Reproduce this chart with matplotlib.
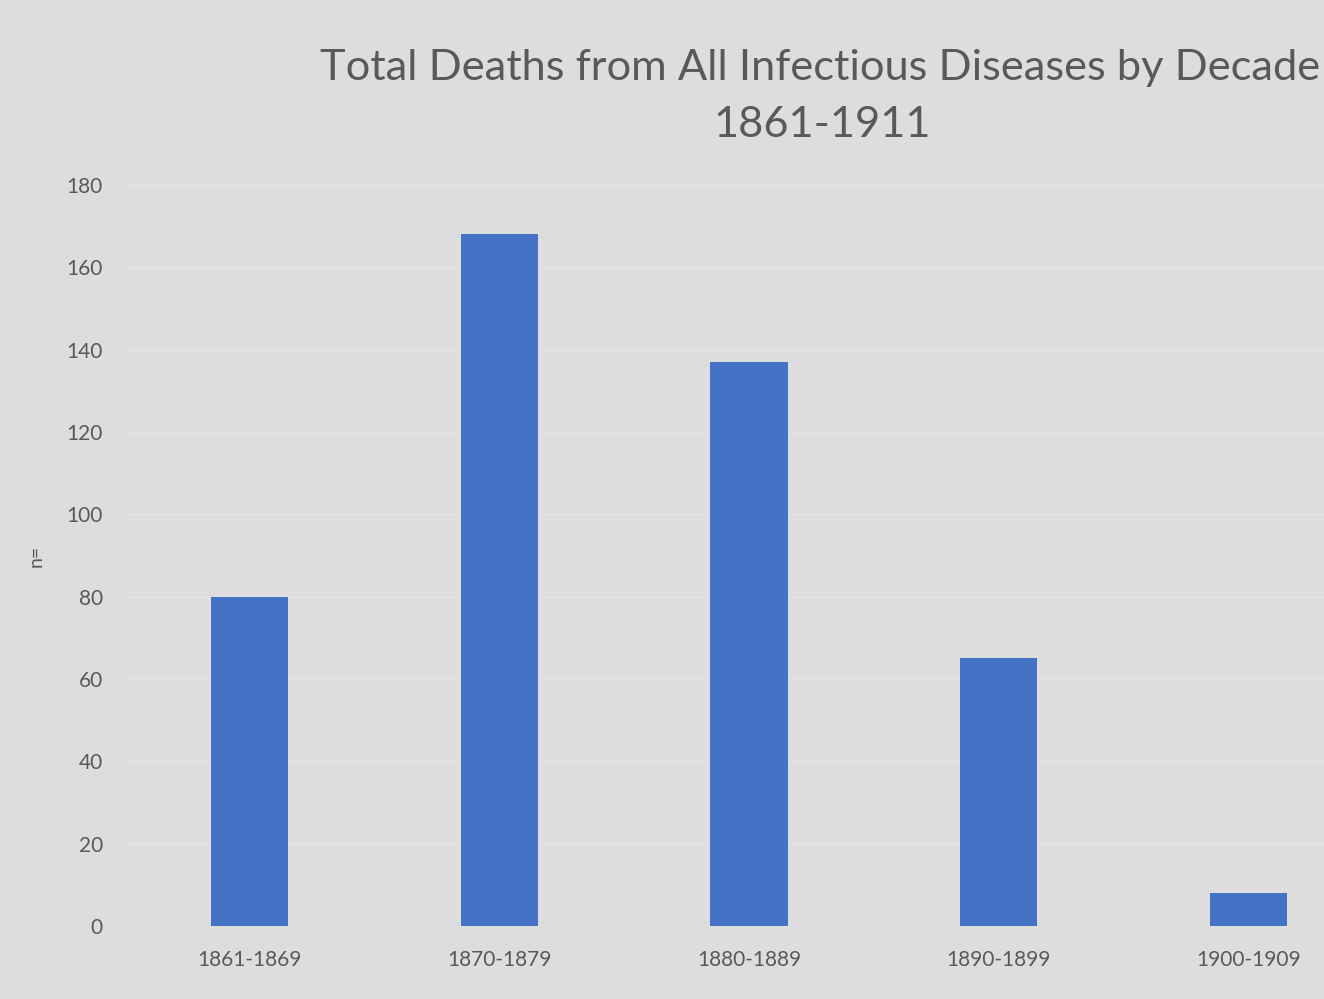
import matplotlib.pyplot as plt

decades = ['1861-1869', '1870-1879', '1880-1889', '1890-1899', '1900-1909']
deaths = [80, 168, 137, 65, 8]
yticks = [0, 20, 40, 60, 80, 100, 120, 140, 160, 180]

bg = '#DDDDDD'
txt = '#595959'
plt.rcParams['font.family'] = ['Lato', 'DejaVu Sans']

fig = plt.figure(figsize=(13.24, 9.99), dpi=100, facecolor=bg)
# chart area runs past the right edge, as in the original crop
ax = fig.add_axes([125/1324, 1-926/999, 1248/1324, (926-185)/999], facecolor=bg)

x = list(range(len(decades)))
ax.bar(x, deaths, width=0.31, color='#4472C4', zorder=3)

ax.set_xlim(-0.5, 4.5)
ax.set_ylim(0, 180)
ax.set_yticks(yticks)
ax.set_xticks(x)
ax.set_xticklabels(decades)
ax.yaxis.grid(True, color='#E3E3E3', linewidth=1.0, zorder=0)
ax.tick_params(axis='y', length=0, pad=16, labelsize=15, labelcolor=txt)
ax.tick_params(axis='x', length=0, pad=17, labelsize=15, labelcolor=txt)
for s in ax.spines.values():
    s.set_visible(False)
ax.set_ylabel('n=', fontsize=14, color=txt)
ax.yaxis.set_label_coords((45-125)/1248, 0.5)

fig.text(820/1324, 1-68/999, 'Total Deaths from All Infectious Diseases by Decade',
         ha='center', va='center', fontsize=31.2, color=txt)
fig.text(822/1324, 1-125/999, '1861-1911',
         ha='center', va='center', fontsize=31.2, color=txt)

fig.savefig('out.png', dpi=100, facecolor=bg)
